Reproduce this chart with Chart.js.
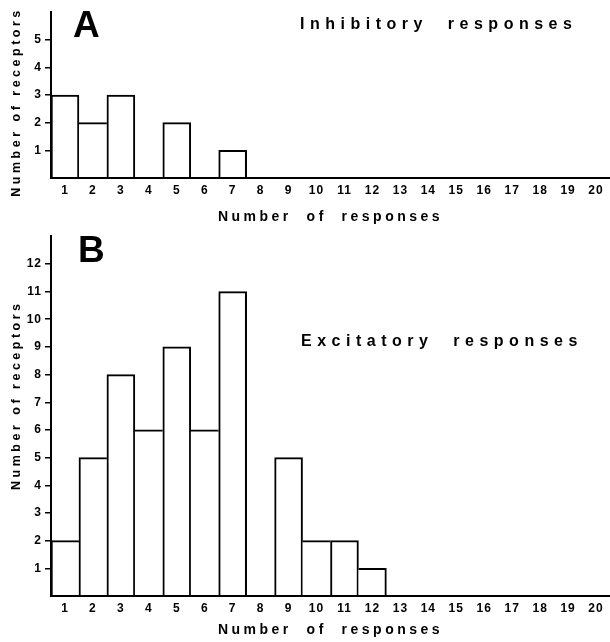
<!DOCTYPE html>
<html>
<head>
<meta charset="utf-8">
<script src="https://cdn.jsdelivr.net/npm/chart.js@4.4.0/dist/chart.umd.min.js"></script>
<style>
  html, body { margin: 0; padding: 0; background: #fff; }
  #page { position: relative; width: 610px; height: 642px; overflow: hidden;
          font-family: "Liberation Sans", Arial, sans-serif; font-weight: bold; color: #000; }
  .panel { position: absolute; left: 0; width: 610px; }
  #boxA { top: 0; height: 236px; }
  #boxB { top: 226px; height: 416px; }
  .letter { position: absolute; font-size: 37px; line-height: 36px; }
  .note { position: absolute; font-size: 16px; line-height: 16px; letter-spacing: 5.5px;
          word-spacing: 10px; white-space: nowrap; }
</style>
</head>
<body>
<div id="page">
  <div class="panel" id="boxA"><canvas id="chartA" width="610" height="236"></canvas></div>
  <div class="panel" id="boxB"><canvas id="chartB" width="610" height="416"></canvas></div>
  <div class="letter" style="left:73px; top:7px;">A</div>
  <div class="letter" style="left:78px; top:232px;">B</div>
  <div class="note" style="left:300px; top:16px;">Inhibitory responses</div>
  <div class="note" style="left:301px; top:333px;">Excitatory responses</div>
</div>
<script>
const responseCounts = ['1','2','3','4','5','6','7','8','9','10','11','12','13','14','15','16','17','18','19','20'];
const inhibitoryReceptors = [3, 2, 3, 0, 2, 0, 1, 0, 0, 0, 0, 0, 0, 0, 0, 0, 0, 0, 0, 0];
const excitatoryReceptors = [2, 5, 8, 6, 9, 6, 11, 0, 5, 2, 2, 1, 0, 0, 0, 0, 0, 0, 0, 0];
const inhibitoryTicks = [1, 2, 3, 4, 5];
const excitatoryTicks = [1, 2, 3, 4, 5, 6, 7, 8, 9, 10, 11, 12];

const FONT = '"Liberation Sans", Arial, sans-serif';

// spaced-out axis titles, tighter tick labels
const spacedText = {
  id: 'spacedText',
  beforeDraw(chart) { chart.ctx.letterSpacing = '3.5px'; },
  beforeDatasetsDraw(chart) { chart.ctx.letterSpacing = '1px'; }
};

// outline bars so neighbours share a single edge
function edgeWidths(ctx) {
  const d = ctx.dataset.data, i = ctx.dataIndex, v = d[i];
  const prev = i > 0 ? d[i - 1] : 0;
  const next = i < d.length - 1 ? d[i + 1] : 0;
  return { top: 2, left: prev <= v ? 2 : 0, right: next < v ? 2 : 0, bottom: 0 };
}

function makeChart(id, values, tickVals, yMax, padTop, xHeight, titlePad, yTitle) {
  return new Chart(document.getElementById(id), {
    type: 'bar',
    data: {
      labels: responseCounts,
      datasets: [{
        data: values,
        backgroundColor: '#fff',
        borderColor: '#000',
        borderWidth: edgeWidths,
        borderSkipped: false,
        categoryPercentage: 1,
        barPercentage: 1
      }]
    },
    options: {
      responsive: false,
      animation: false,
      layout: { padding: { top: padTop, left: 0, right: 0, bottom: 0 } },
      plugins: { legend: { display: false }, tooltip: { enabled: false } },
      scales: {
        x: {
          afterFit: s => { s.height = xHeight; },
          grid: { display: false, drawTicks: false },
          border: { display: true, color: '#000', width: 2, z: 1 },
          ticks: { color: '#000', font: { family: FONT, size: 12, weight: 'bold' },
                   padding: 5, maxRotation: 0, autoSkip: false, z: 1 },
          title: { display: true, text: 'Number  of  responses', color: '#000',
                   font: { family: FONT, size: 14, weight: 'bold' },
                   padding: { top: 0, bottom: titlePad } }
        },
        y: {
          min: 0,
          max: yMax,
          afterBuildTicks: s => { s.ticks = tickVals.map(v => ({ value: v })); },
          afterFit: s => { s.width = 51; },
          grid: { drawOnChartArea: false, drawTicks: true, tickLength: 6, color: '#000', lineWidth: 1.5 },
          border: { display: true, color: '#000', width: 2, z: 1 },
          ticks: { color: '#000', font: { family: FONT, size: 12, weight: 'bold' }, padding: 3, z: 1 },
          title: { display: true, text: yTitle, color: '#000',
                   font: { family: FONT, size: 12.5, weight: 'bold' },
                   padding: { top: 9, bottom: 0 } }
        }
      }
    },
    plugins: [spacedText]
  });
}

makeChart('chartA', inhibitoryReceptors, inhibitoryTicks, 6, 12, 58, 10, 'Number of receptors  ');
makeChart('chartB', excitatoryReceptors, excitatoryTicks, 13, 9, 46, 3, '      Number of receptors');
</script>
</body>
</html>
